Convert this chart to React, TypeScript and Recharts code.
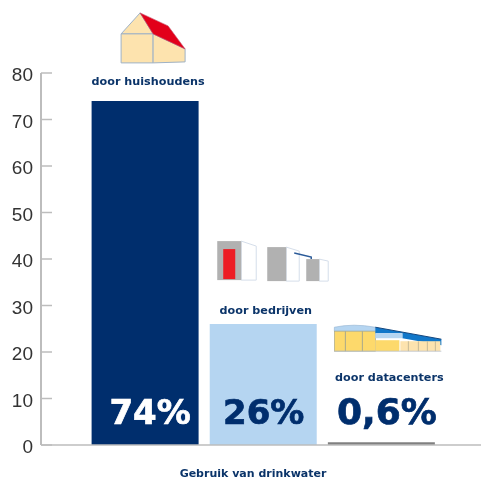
import React from "react";
import { BarChart, Bar, XAxis, YAxis, Cell, LabelList, Label } from "recharts";

const categories = ["door huishoudens", "door bedrijven", "door datacenters"];
const values = [74, 26, 0.6];
const percentLabels = ["74%", "26%", "0,6%"];
const barColors = ["#002e6d", "#b5d5f1", "#808080"];
const percentColors = ["#ffffff", "#002e6d", "#002e6d"];
const yTicks = [0, 10, 20, 30, 40, 50, 60, 70, 80];
const axisTitle = "Gebruik van drinkwater";

const data = categories.map((name, i) => ({ name, value: values[i] }));
const NAVY = "#0b3469";
const EDGE = "#9fb2c6";

const HouseIcon = () => (
  <g strokeLinejoin="round">
    <polygon points="48,-88 29,-67 61,-67" fill="#fde3ae" stroke={EDGE} strokeWidth={1} />
    <rect x={29} y={-67} width={32} height={29} fill="#fde3ae" stroke={EDGE} strokeWidth={1} />
    <polygon points="61,-67 93,-52 93,-39 61,-38" fill="#fde3ae" stroke={EDGE} strokeWidth={1} />
    <polygon points="48,-88 76,-75 93,-52 61,-67" fill="#e2001a" stroke="#c5506a" strokeWidth={0.6} />
  </g>
);

const OfficeIcon = () => (
  <g>
    <polygon points="31,-83 46,-78 46,-44 31,-44" fill="#fff" stroke="#d5deea" strokeWidth={1} />
    <rect x={7} y={-83} width={24} height={39} fill="#b1b1b1" />
    <rect x={13} y={-75} width={12} height={30} fill="#ed1c24" />
    <polygon points="76,-77 89,-73 89,-43 76,-43" fill="#fff" stroke="#d5deea" strokeWidth={1} />
    <rect x={57} y={-77} width={19} height={34} fill="#b1b1b1" />
    <polyline points="84,-71 101,-67 101,-65" fill="none" stroke="#2a5a98" strokeWidth={1.5} />
    <polygon points="109,-65 118,-63 118,-43 109,-43" fill="#fff" stroke="#d5deea" strokeWidth={1} />
    <rect x={96} y={-65} width={13} height={22} fill="#b1b1b1" />
  </g>
);

const DatacenterIcon = () => (
  <g>
    <path d="M6,-115 Q25,-119 47,-115 L47,-111 L6,-111 Z" fill="#b5d5f1" stroke="#8fb0d0" strokeWidth={0.6} />
    <rect x={6} y={-111} width={41} height={20} fill="#fdd96b" stroke="#a9a98c" strokeWidth={0.7} />
    <line x1={17} y1={-111} x2={17} y2={-91} stroke="#a9a98c" />
    <line x1={34} y1={-111} x2={34} y2={-91} stroke="#a9a98c" />
    <polygon points="47,-115 113,-103 113,-97 74,-104 74,-109 47,-109" fill="#1177c9" />
    <line x1={47} y1={-115} x2={113} y2={-103} stroke="#14477f" strokeWidth={1} />
    <rect x={47} y={-109} width={27} height={5} fill="#b5d5f1" />
    <rect x={47} y={-102} width={24} height={11} fill="#fdd96b" />
    <rect x={72} y={-101} width={40} height={10} fill="#fde3ae" />
    {[80, 90, 99, 107].map((x) => (
      <line key={x} x1={x} y1={-101} x2={x} y2={-91} stroke="#b9b08f" strokeWidth={0.8} />
    ))}
    <line x1={6} y1={-91} x2={113} y2={-91} stroke="#b9c2cc" strokeWidth={0.8} />
  </g>
);

const icons = [HouseIcon, OfficeIcon, DatacenterIcon];
const nameOffsets = [
  { dx: 56.5, dy: -16 },
  { dx: 56, dy: -10 },
  { dx: 61.5, dy: -61 },
];

const BarDecor = (props: any) => {
  const { x, y, height, index } = props;
  const Icon = icons[index];
  const off = nameOffsets[index];
  const baseY = y + height;
  const pctDx = [58.5, 54, 59][index];
  const pctSize = [34, 34, 36][index];
  return (
    <g>
      <g transform={`translate(${x + 0.5},${y})`}>
        <Icon />
      </g>
      <text
        x={x + off.dx}
        y={y + off.dy}
        textAnchor="middle"
        fontFamily="DejaVu Sans"
        fontWeight="bold"
        fontSize={11.2}
        fill={NAVY}
      >
        {categories[index]}
      </text>
      <text
        x={x + pctDx}
        y={baseY - 21}
        textAnchor="middle"
        fontFamily="DejaVu Sans"
        fontWeight="bold"
        fontSize={pctSize}
        fill={percentColors[index]}
        stroke={percentColors[index]}
        strokeWidth={0.7}
      >
        {percentLabels[index]}
      </text>
    </g>
  );
};

const YTick = (props: any) => {
  const { x, y, payload } = props;
  return (
    <g>
      <line x1={x} y1={y} x2={x + 11} y2={y} stroke="#bdbdbd" strokeWidth={1.5} />
      <text
        x={x - 8}
        y={y + 8}
        textAnchor="end"
        fontFamily="Liberation Sans"
        fontSize={19}
        fill="#333333"
      >
        {payload.value}
      </text>
    </g>
  );
};

export default function App() {
  return (
    <div style={{ position: "absolute", left: 0, top: 0, width: 481, height: 479, background: "#fff", filter: "blur(0.35px)" }}>
      <BarChart
        width={481}
        height={479}
        data={data}
        margin={{ top: 73, right: 0, bottom: 0, left: 0 }}
        barSize={107}
      >
        <XAxis
          dataKey="name"
          tick={false}
          tickLine={false}
          height={34}
          padding={{ left: 44.6, right: 41 }}
          axisLine={{ stroke: "#bdbdbd", strokeWidth: 1.5 }}
        >
          <Label
            value={axisTitle}
            position="insideBottom"
            offset={2}
            dx={-8}
            fontFamily="DejaVu Sans"
            fontWeight="bold"
            fontSize={11}
            fill={NAVY}
          />
        </XAxis>
        <YAxis
          width={41}
          domain={[0, 80]}
          ticks={yTicks}
          interval={0}
          tickLine={false}
          tickSize={0}
          tickMargin={0}
          tick={YTick}
          axisLine={{ stroke: "#bdbdbd", strokeWidth: 2 }}
        />
        <Bar dataKey="value" isAnimationActive={false}>
          {data.map((d, i) => (
            <Cell key={d.name} fill={barColors[i]} />
          ))}
          <LabelList dataKey="value" content={BarDecor} />
        </Bar>
      </BarChart>
    </div>
  );
}
